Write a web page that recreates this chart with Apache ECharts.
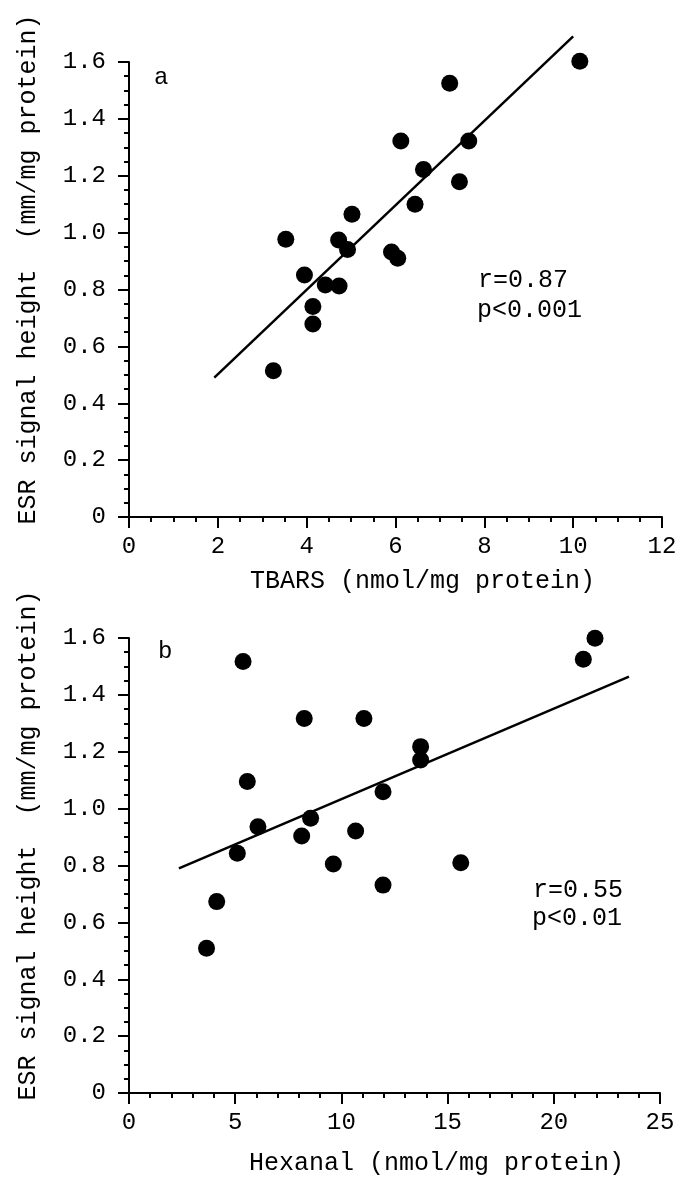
<!DOCTYPE html>
<html>
<head>
<meta charset="utf-8">
<script src="https://cdn.jsdelivr.net/npm/echarts@6/dist/echarts.min.js"></script>
<style>
html,body{margin:0;padding:0;background:#fff;}
#chart{width:684px;height:1180px;}
</style>
</head>
<body>
<div id="chart"></div>
<script>
// Panel a: TBARS vs ESR signal height
var tbarsX = [3.53, 5.02, 4.72, 4.92, 5.91, 6.05, 3.95, 4.42, 4.73, 4.14, 4.14, 3.25, 10.15, 7.22, 6.12, 7.65, 6.63, 7.44, 6.44];
var esrA   = [0.977, 1.065, 0.974, 0.941, 0.932, 0.910, 0.851, 0.816, 0.812, 0.740, 0.679, 0.514, 1.603, 1.525, 1.322, 1.322, 1.222, 1.179, 1.100];
var fitAx = [1.92, 10.0];
var fitAy = [0.49, 1.69];

// Panel b: Hexanal vs ESR signal height
var hexanalX = [8.25, 11.06, 13.73, 13.73, 5.57, 11.96, 8.55, 6.07, 8.13, 10.67, 5.10, 9.62, 11.96, 4.13, 21.94, 21.39, 15.62, 5.37, 3.65];
var esrB     = [1.317, 1.317, 1.218, 1.171, 1.095, 1.059, 0.966, 0.936, 0.904, 0.921, 0.843, 0.805, 0.731, 0.673, 1.599, 1.525, 0.810, 1.517, 0.509];
var fitBx = [2.35, 23.54];
var fitBy = [0.79, 1.464];

var yTickLabels = ['0', '0.2', '0.4', '0.6', '0.8', '1.0', '1.2', '1.4', '1.6'];
var xTickLabelsA = ['0', '2', '4', '6', '8', '10', '12'];
var xTickLabelsB = ['0', '5', '10', '15', '20', '25'];

var yName = 'ESR signal height  (mm/mg protein)';
var xNameA = 'TBARS (nmol/mg protein)';
var xNameB = 'Hexanal (nmol/mg protein)';

function pairs(xs, ys) { return xs.map(function (x, i) { return [x, ys[i]]; }); }

var FONT = 'Liberation Mono';
var black = '#000';

function xAxisCfg(gridIndex, max, interval, minorSplit, labels, name, gap, shift) {
  return {
    type: 'value', gridIndex: gridIndex, min: 0, max: max, interval: interval,
    name: name, nameLocation: 'middle', nameGap: gap,
    nameTextStyle: { fontFamily: FONT, fontSize: 25, color: black, lineHeight: 25, padding: [0, 0, 0, shift] },
    axisLine: { show: true, onZero: false, lineStyle: { color: black, width: 2 } },
    axisTick: { show: true, length: 11, lineStyle: { color: black, width: 2 } },
    minorTick: { show: true, splitNumber: minorSplit, length: 5, lineStyle: { color: black, width: 2 } },
    splitLine: { show: false }, minorSplitLine: { show: false },
    axisLabel: {
      margin: 18, fontFamily: FONT, fontSize: 24, color: black, lineHeight: 24,
      formatter: function (v) { return labels[Math.round(v / interval)]; }
    }
  };
}
function yAxisCfg(gridIndex) {
  return {
    type: 'value', gridIndex: gridIndex, min: 0, max: 1.6, interval: 0.2,
    name: yName, nameLocation: 'middle', nameGap: 88,
    nameTextStyle: { fontFamily: FONT, fontSize: 25, color: black, lineHeight: 25, padding: [0, 0, 0, 40] },
    axisLine: { show: true, onZero: false, lineStyle: { color: black, width: 2 } },
    axisTick: { show: true, length: 11, lineStyle: { color: black, width: 2 } },
    minorTick: { show: true, splitNumber: 4, length: 5, lineStyle: { color: black, width: 2 } },
    splitLine: { show: false }, minorSplitLine: { show: false },
    axisLabel: {
      margin: 23, fontFamily: FONT, fontSize: 24, color: black,
      formatter: function (v) { return yTickLabels[Math.round(v / 0.2)]; }
    }
  };
}

var chart = echarts.init(document.getElementById('chart'), null, { renderer: 'canvas' });
chart.setOption({
  backgroundColor: '#fff',
  animation: false,
  grid: [
    { left: 129, top: 62, width: 533, height: 455 },
    { left: 129, top: 638, width: 531, height: 455 }
  ],
  xAxis: [
    xAxisCfg(0, 12, 2, 4, xTickLabelsA, xNameA, 52, 54),
    xAxisCfg(1, 25, 5, 5, xTickLabelsB, xNameB, 58, 84)
  ],
  yAxis: [yAxisCfg(0), yAxisCfg(1)],
  series: [
    { type: 'scatter', xAxisIndex: 0, yAxisIndex: 0, symbol: 'circle', symbolSize: 17, clip: false,
      itemStyle: { color: black, opacity: 1 }, data: pairs(tbarsX, esrA), z: 3 },
    { type: 'line', xAxisIndex: 0, yAxisIndex: 0, symbol: 'none', clip: false,
      lineStyle: { color: black, width: 2.5 }, data: pairs(fitAx, fitAy), z: 2 },
    { type: 'scatter', xAxisIndex: 1, yAxisIndex: 1, symbol: 'circle', symbolSize: 17, clip: false,
      itemStyle: { color: black, opacity: 1 }, data: pairs(hexanalX, esrB), z: 3 },
    { type: 'line', xAxisIndex: 1, yAxisIndex: 1, symbol: 'none', clip: false,
      lineStyle: { color: black, width: 2.5 }, data: pairs(fitBx, fitBy), z: 2 }
  ],
  graphic: [
    { type: 'text', left: 154, top: 66, style: { text: 'a', font: '24px "Liberation Mono"', fill: black } },
    { type: 'text', left: 478, top: 268, style: { text: 'r=0.87', font: '25px "Liberation Mono"', fill: black } },
    { type: 'text', left: 477, top: 298, style: { text: 'p<0.001', font: '25px "Liberation Mono"', fill: black } },
    { type: 'text', left: 158, top: 640, style: { text: 'b', font: '24px "Liberation Mono"', fill: black } },
    { type: 'text', left: 533, top: 878, style: { text: 'r=0.55', font: '25px "Liberation Mono"', fill: black } },
    { type: 'text', left: 532, top: 906, style: { text: 'p<0.01', font: '25px "Liberation Mono"', fill: black } }
  ]
});
</script>
</body>
</html>
